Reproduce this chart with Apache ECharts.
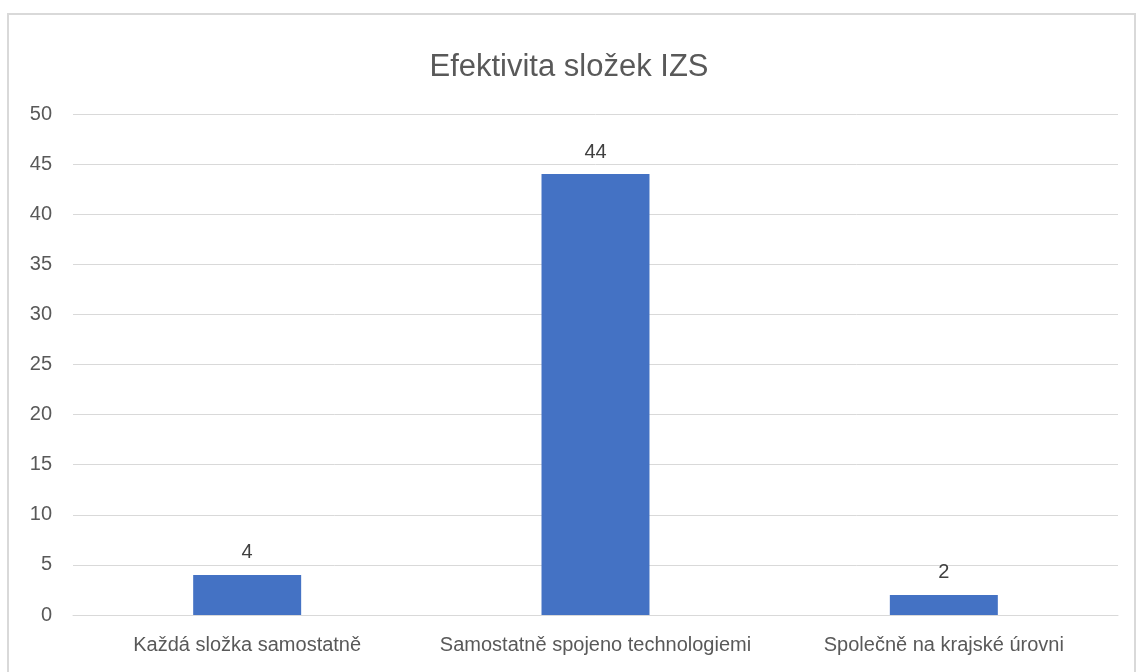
<!DOCTYPE html>
<html>
<head>
<meta charset="utf-8">
<title>Efektivita složek IZS</title>
<script src="https://cdn.jsdelivr.net/npm/echarts@6/dist/echarts.min.js"></script>
<style>
  html, body { margin: 0; padding: 0; background: #ffffff; }
  #chart { width: 1138px; height: 672px; }
</style>
</head>
<body>
<div id="chart"></div>
<script>
// Hodnocení efektivity složek IZS
const categories = ['Každá složka samostatně', 'Samostatně spojeno technologiemi', 'Společně na krajské úrovni'];
const values = [4, 44, 2];
const yTicks = { min: 0, max: 50, interval: 5 };

const chart = echarts.init(document.getElementById('chart'));
const font = '"Liberation Sans", "DejaVu Sans", sans-serif';

chart.setOption({
  animation: false,
  backgroundColor: '#ffffff',
  title: {
    text: 'Efektivita složek IZS',
    left: 'center',
    top: 47,
    textStyle: { fontFamily: font, fontSize: 31, fontWeight: 'normal', color: '#595959' }
  },
  graphic: [{
    type: 'rect',
    silent: true,
    shape: { x: 8, y: 14, width: 1127, height: 700 },
    style: { fill: 'none', stroke: '#d9d9d9', lineWidth: 2 }
  }],
  grid: { left: 73, right: 20, top: 114, bottom: 57 },
  xAxis: {
    type: 'category',
    data: categories,
    axisLine: { show: true, lineStyle: { color: '#d9d9d9', width: 1 } },
    axisTick: { show: false },
    axisLabel: {
      interval: 0,
      hideOverlap: false,
      fontFamily: font,
      fontSize: 20,
      color: '#595959',
      margin: 20
    }
  },
  yAxis: {
    type: 'value',
    min: yTicks.min,
    max: yTicks.max,
    interval: yTicks.interval,
    axisLine: { show: false },
    axisTick: { show: false },
    axisLabel: { fontFamily: font, fontSize: 20, color: '#595959', margin: 21 },
    splitLine: { lineStyle: { color: '#d9d9d9', width: 1 } }
  },
  series: [{
    type: 'bar',
    data: values,
    barWidth: '31%',
    itemStyle: { color: '#4472c4' },
    label: {
      show: true,
      position: 'top',
      distance: 12,
      fontFamily: font,
      fontSize: 20,
      color: '#404040'
    }
  }]
});
</script>
</body>
</html>
